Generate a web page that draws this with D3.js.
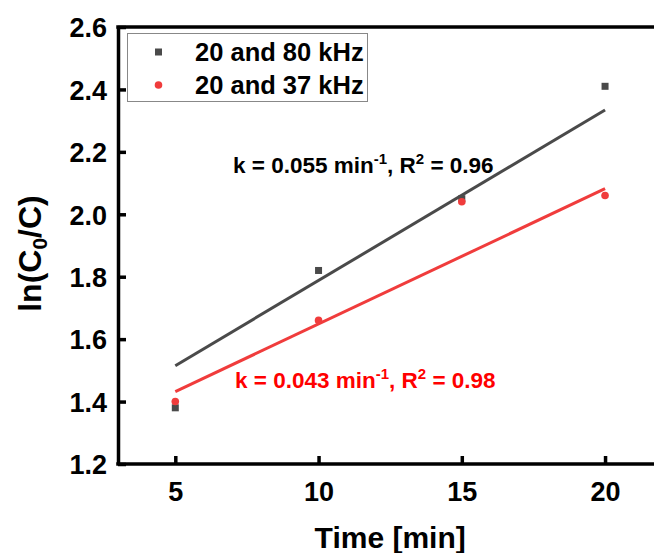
<!DOCTYPE html>
<html>
<head>
<meta charset="utf-8">
<script src="https://cdnjs.cloudflare.com/ajax/libs/d3/7.8.5/d3.min.js"></script>
<style>
body { margin: 0; background: #fff; }
text { font-family: "Liberation Sans", Arial, sans-serif; font-weight: bold; }
</style>
</head>
<body>
<script>
// canvas and positioning magic numbers
var w = 654;
var h = 553;
var plotLeft = 118;
var plotRight = 691;
var plotTop = 27;
var plotBottom = 464;

// data
var times = [5, 10, 15, 20];
var series80 = [1.38, 1.82, 2.05, 2.41];
var series37 = [1.40, 1.66, 2.04, 2.06];
// fitted lines, value at start and end time
var fit80 = [1.515, 2.334];
var fit37 = [1.432, 2.082];
var fitTimes = [5, 20];
var xTicks = [5, 10, 15, 20];
var yTicks = [1.2, 1.4, 1.6, 1.8, 2.0, 2.2, 2.4, 2.6];
var legendLabels = ["20 and 80 kHz", "20 and 37 kHz"];

var grey = "#4a4a4a";
var red = "#f03c3c";

var svg = d3.select("body")
    .append("svg")
    .attr("width", w)
    .attr("height", h);

var x = d3.scaleLinear().domain([3, 23]).range([plotLeft, plotRight]);
var y = d3.scaleLinear().domain([1.2, 2.6]).range([plotBottom, plotTop]);

// fit lines
var line = d3.line()
    .x(function(d) { return x(d[0]); })
    .y(function(d) { return y(d[1]); });

svg.append("path")
    .datum(d3.zip(fitTimes, fit80))
    .attr("d", line)
    .attr("fill", "none")
    .attr("stroke", grey)
    .attr("stroke-width", 3);

svg.append("path")
    .datum(d3.zip(fitTimes, fit37))
    .attr("d", line)
    .attr("fill", "none")
    .attr("stroke", red)
    .attr("stroke-width", 3);

// points
svg.append("g").selectAll("rect")
    .data(d3.zip(times, series80))
    .enter().append("rect")
    .attr("x", function(d) { return x(d[0]) - 3.5; })
    .attr("y", function(d) { return y(d[1]) - 3.5; })
    .attr("width", 7)
    .attr("height", 7)
    .attr("fill", grey);

svg.append("g").selectAll("circle")
    .data(d3.zip(times, series37))
    .enter().append("circle")
    .attr("cx", function(d) { return x(d[0]); })
    .attr("cy", function(d) { return y(d[1]); })
    .attr("r", 3.8)
    .attr("fill", red);

// axes
var xAxis = svg.append("g")
    .attr("transform", "translate(0," + plotBottom + ")")
    .call(d3.axisBottom(x).tickValues(xTicks).tickSizeInner(-8).tickSizeOuter(0).tickPadding(18));

var yAxis = svg.append("g")
    .attr("transform", "translate(" + plotLeft + ",0)")
    .call(d3.axisLeft(y).tickValues(yTicks).tickSizeInner(-8).tickSizeOuter(0).tickPadding(11)
        .tickFormat(d3.format(".1f")));

[xAxis, yAxis].forEach(function(a) {
    a.selectAll("path").attr("stroke", "#000").attr("stroke-width", 3.5);
    a.selectAll("line").attr("stroke", "#000").attr("stroke-width", 3.5);
    a.selectAll("text").attr("fill", "#000").attr("font-size", 27)
        .attr("font-family", "Liberation Sans, Arial, sans-serif");
});
xAxis.select("path").attr("d", "M" + (plotLeft - 1.75) + ",0H" + w);
yAxis.selectAll("text").attr("dy", "0.36em");

// top frame line
svg.append("line")
    .attr("x1", plotLeft - 1.75).attr("x2", w)
    .attr("y1", plotTop).attr("y2", plotTop)
    .attr("stroke", "#000")
    .attr("stroke-width", 3.5);

// axis titles
svg.append("text")
    .attr("x", x(12.5))
    .attr("y", 548)
    .attr("text-anchor", "middle")
    .attr("font-size", 30)
    .text("Time [min]");

var yTitle = svg.append("text")
    .attr("transform", "translate(41," + ((plotTop + plotBottom) / 2 + 8) + ") rotate(-90)")
    .attr("text-anchor", "middle")
    .attr("font-size", 32);
yTitle.append("tspan").text("ln(C");
yTitle.append("tspan").attr("font-size", 21).attr("dy", 6).text("0");
yTitle.append("tspan").attr("dy", -6).text("/C)");

// legend
var legend = svg.append("g");
legend.append("rect")
    .attr("x", 127.5).attr("y", 33.5)
    .attr("width", 240).attr("height", 68)
    .attr("fill", "#fff")
    .attr("stroke", "#888")
    .attr("stroke-width", 1);

var legendRows = legend.selectAll("g.row")
    .data(legendLabels)
    .enter().append("g")
    .attr("class", "row")
    .attr("transform", function(d, i) { return "translate(0," + (52 + i * 33) + ")"; });

legendRows.filter(function(d, i) { return i == 0; }).append("rect")
    .attr("x", 155).attr("y", -3.5).attr("width", 7).attr("height", 7).attr("fill", grey);
legendRows.filter(function(d, i) { return i == 1; }).append("circle")
    .attr("cx", 158.5).attr("cy", 0).attr("r", 3.8).attr("fill", red);

legendRows.append("text")
    .attr("x", 195)
    .attr("y", 8.5)
    .attr("font-size", 25.5)
    .text(function(d) { return d; });

// annotations
function annotate(ax, ay, k, r2, color) {
    var t = svg.append("text")
        .attr("x", ax).attr("y", ay)
        .attr("font-size", 22.5)
        .attr("fill", color);
    t.append("tspan").text("k = " + k + " min");
    t.append("tspan").attr("font-size", 15).attr("dy", -9).text("-1");
    t.append("tspan").attr("dy", 9).text(", R");
    t.append("tspan").attr("font-size", 15).attr("dy", -9).text("2");
    t.append("tspan").attr("dy", 9).text(" = " + r2);
}
annotate(233, 173, "0.055", "0.96", "#000");
annotate(235, 388, "0.043", "0.98", "#ff0000");
</script>
</body>
</html>
